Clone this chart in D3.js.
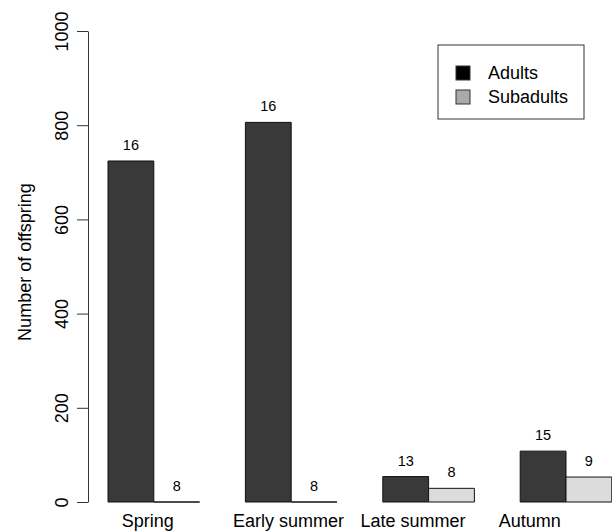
<!DOCTYPE html>
<html><head><meta charset="utf-8">
<script src="https://cdn.jsdelivr.net/npm/d3@7"></script>
<style>body{margin:0;background:#fff}svg{display:block}text{font-family:"Liberation Sans",Arial,Helvetica,sans-serif;fill:#000}</style>
</head><body><svg id="c" width="612" height="532"></svg>
<script>
const seasons = ["Spring", "Early summer", "Late summer", "Autumn"];
const series = ["Adults", "Subadults"];
const adults = [724, 806, 54, 108];
const subadults = [0, 0, 29, 53];
const adultN = [16, 16, 13, 15];
const subadultN = [8, 8, 8, 9];
const yTicks = [0, 200, 400, 600, 800, 1000];
const labelAt = [1.87, 4.94, 7.66, 10.21]; // category label positions in bar units
const barFill = {Adults: "#393939", Subadults: "#dcdcdc"};
const keyFill = {Adults: "#000000", Subadults: "#aaaaaa"};

const svg = d3.select("#c");
const y = d3.scaleLinear().domain([0, 1000]).range([502, 31]);
const units = d3.scaleLinear().domain([0, 12]).range([62.2, 611.8]);
const x0 = d3.scaleBand().domain(seasons).range([units(1), units(12)]).paddingInner(1/3).paddingOuter(0);
const x1 = d3.scaleBand().domain(series).range([0, x0.bandwidth()]);

const rows = seasons.map((s, i) => ({season: s, vals: [
  {k: "Adults", v: adults[i], n: adultN[i]},
  {k: "Subadults", v: subadults[i], n: subadultN[i]}]}));

const g = svg.selectAll("g.grp").data(rows).join("g").attr("class", "grp")
  .attr("transform", d => `translate(${x0(d.season)},0)`);
g.selectAll("path").data(d => d.vals).join("path")
  .attr("d", d => {
    const a = x1(d.k), b = a + x1.bandwidth(), t = y(d.v), z = y(0);
    return `M${a},${z}L${a},${t}L${b},${t}L${b},${z}Z`;
  })
  .attr("fill", d => barFill[d.k]).attr("stroke", "#111").attr("stroke-width", 1);
g.selectAll("text").data(d => d.vals).join("text")
  .attr("x", d => x1(d.k) + x1.bandwidth() / 2).attr("y", d => y(d.v) - 11)
  .attr("text-anchor", "middle").attr("font-size", 14.5).text(d => d.n);

// y axis
const ya = svg.append("g").attr("transform", "translate(88,0)")
  .call(d3.axisLeft(y).tickValues(yTicks).tickSize(11).tickSizeOuter(0).tickFormat(d3.format("d")));
ya.select(".domain").attr("stroke", "#333");
ya.selectAll(".tick line").attr("stroke", "#333");
ya.selectAll(".tick text").attr("font-size", 18).attr("fill", "#000")
  .attr("x", 0).attr("dy", 0).attr("text-anchor", "middle")
  .attr("transform", "translate(-26,0) rotate(-90)").attr("dominant-baseline", "central");

svg.append("text").attr("transform", "translate(25,262) rotate(-90)")
  .attr("text-anchor", "middle").attr("dominant-baseline", "central").attr("font-size", 18)
  .text("Number of offspring");

// category labels
svg.selectAll("text.cat").data(seasons).join("text").attr("class", "cat")
  .attr("x", (d, i) => units(labelAt[i])).attr("y", 527)
  .attr("text-anchor", "middle").attr("font-size", 18).text(d => d);

// legend
const lg = svg.append("g");
lg.append("rect").attr("x", 438).attr("y", 45).attr("width", 146).attr("height", 74)
  .attr("fill", "#fff").attr("stroke", "#333").attr("stroke-width", 1);
const li = lg.selectAll("g.li").data(series).join("g").attr("class", "li")
  .attr("transform", (d, i) => `translate(0,${73 + i * 24})`);
li.append("rect").attr("x", 456).attr("y", -7).attr("width", 14).attr("height", 14)
  .attr("fill", d => keyFill[d]).attr("stroke", "#333");
li.append("text").attr("x", 488).attr("y", 0).attr("dominant-baseline", "central")
  .attr("font-size", 18).text(d => d);
</script></body></html>
